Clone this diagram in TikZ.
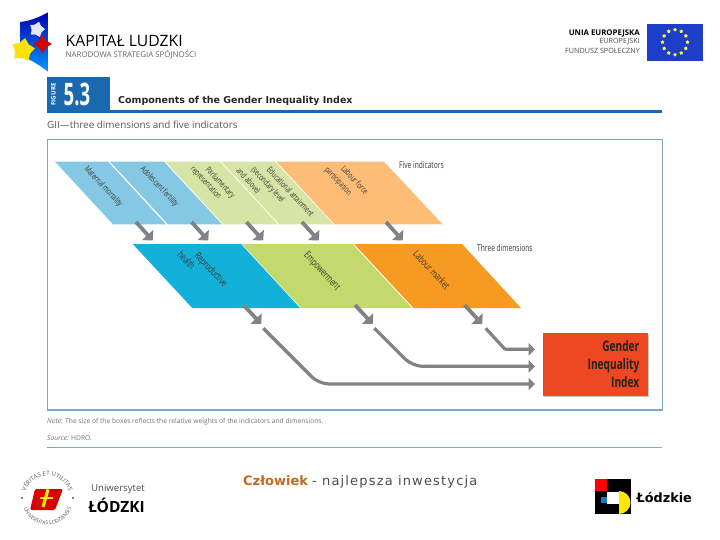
\documentclass[tikz,border=0pt]{standalone}
\usepackage{xcolor}
\usepackage{fontspec}
\setmainfont{Open Sans}
\newfontfamily\condfont[FakeStretch=0.7]{Open Sans}
\newfontfamily\numfont[FakeStretch=0.6]{Open Sans}
\newfontfamily\headfont{DejaVu Sans}
\newfontfamily\sloganfont[LetterSpace=9]{DejaVu Sans}
\definecolor{cadre}{HTML}{7FA8C4}
\definecolor{bandeau}{HTML}{1A69AE}
\definecolor{ciel}{HTML}{85C8E4}
\definecolor{tilleul}{HTML}{D6E5A5}
\definecolor{abricot}{HTML}{FDBD77}
\definecolor{cyan2}{HTML}{11B1D9}
\definecolor{herbe}{HTML}{C3D96D}
\definecolor{orange2}{HTML}{F79A21}
\definecolor{brique}{HTML}{EE4823}
\definecolor{fleche}{HTML}{808285}
\definecolor{encre}{HTML}{3A3A30}
\definecolor{cuivre}{HTML}{C06A1C}
\definecolor{azur}{HTML}{1D3FC8}
\usetikzlibrary{arrows.meta,shapes.geometric,shadows,decorations.text}
\tikzset{
  slant/.style={rotate=-47,text=encre,inner sep=0pt,font=\condfont\fontsize{8.5}{9.5}\selectfont},
  dimen/.style={slant,font=\condfont\fontsize{10}{11}\selectfont},
  side/.style={anchor=west,inner sep=0pt,text=encre,font=\condfont\fontsize{9.5}{10}\selectfont},
  short/.style={draw=fleche,line width=3.8pt,-{Triangle[length=7.5pt,width=15pt]}},
  long/.style={draw=fleche,line width=3.2pt,rounded corners=10pt,-{Triangle[length=6.5pt,width=12.5pt]}},
  small/.style={anchor=west,inner sep=0pt,text=black!55,font=\fontsize{6.7}{8}\selectfont},
  euro/.style={anchor=east,inner sep=0pt,text=black!70,font=\fontsize{7.2}{8}\selectfont},
  eustar/.style={star,star points=5,fill=yellow!70!white,inner sep=0pt,minimum size=4pt}
}
\begin{document}
\begin{tikzpicture}[x=1pt,y=-1pt]
\useasboundingbox (0,0) rectangle (720,540);
% logo du haut a gauche
\shade[top color=blue!70!black,bottom color=cyan!60!blue] (20,22) .. controls (30,21) and (40,17) .. (48.5,12) -- (48.5,72) .. controls (40,66) and (30,58) .. (20,57) -- cycle;
\node[star,star points=5,fill=white!90!blue,inner sep=0pt,minimum size=16pt,rotate=-15] (whitestar) at (37,29.5) {};
\node[star,star points=5,fill=yellow!85!orange,inner sep=0pt,minimum size=24pt,rotate=-10] (yellowstar) at (23,50) {};
\node[star,star points=4,star point ratio=2,fill=red!85!black,inner sep=0pt,minimum size=19pt] (redstar) at (42.5,44) {};
\node[anchor=west,inner sep=0pt,font=\fontsize{15.7}{17}\selectfont] (kapital) at (65.5,41) {KAPITAŁ LUDZKI};
\node[anchor=west,inner sep=0pt,text=black!60,font=\fontsize{7.9}{9}\selectfont] (strategia) at (65.5,54.5) {NARODOWA STRATEGIA SPÓJNOŚCI};
% logo du haut a droite
\node[euro,text=black,font=\bfseries\fontsize{7.8}{8}\selectfont] (unia) at (640,33) {UNIA EUROPEJSKA};
\node[euro] (europejski) at (640,42) {EUROPEJSKI};
\node[euro] (fundusz) at (640,51) {FUNDUSZ SPOŁECZNY};
\fill[azur] (647.3,23.7) rectangle (702.7,60.7);
\foreach \a in {0,30,...,330}{
  \node[eustar] (eu\a) at ({675+12.5*cos(\a)},{42.2+12.5*sin(\a)}) {};
}
% bandeau du titre
\fill[bandeau] (47,77.5) rectangle (110,110);
\fill[bandeau] (47,110) rectangle (662,113);
\node[rotate=90,text=white,font=\bfseries\fontsize{6.2}{7}\selectfont] (figure) at (53.5,94.5) {FIGURE};
\node[text=white,inner sep=0pt,font=\numfont\bfseries\fontsize{31}{32}\selectfont] (numero) at (77,94) {5.3};
\node[anchor=west,inner sep=0pt,text=black!85,font=\headfont\bfseries\fontsize{9.5}{11}\selectfont] (titre) at (118,100.5) {Components of the Gender Inequality Index};
\node[anchor=west,inner sep=0pt,text=black!65,font=\fontsize{9.9}{11}\selectfont] (soustitre) at (47,125) {GII—three dimensions and five indicators};
% cadre du schema
\draw[cadre,line width=1.3pt] (47.3,139.7) rectangle (662.3,410);
% cinq indicateurs
\foreach \a/\b/\c/\d/\col in {55/108/113/166/ciel,110/164/168/222/ciel,165.5/220/223.5/278/tilleul,221.5/275/279.5/333.5/tilleul,276.5/384/334.5/442.7/abricot}{
  \fill[\col] (\a,161.7) -- (\b,161.7) -- (\d,224.3) -- (\c,224.3) -- cycle;
}
\node[slant] (maternal) at (103.3,186.7) {Maternal mortality};
\node[slant] (adolescent) at (159.3,186.7) {Adolescent fertility};
\node[slant] (parliament) at (220,183) {Parliamentary};
\node[slant] (represent) at (205.7,183) {representation};
\node[slant] (education) at (290.7,191.7) {Educational attainment};
\node[slant] (secondary) at (267.7,185) {(secondary level};
\node[slant] (above) at (248.3,181) {and above)};
\node[slant] (labourforce) at (355,180) {Labour force};
\node[slant] (participation) at (338,181.7) {participation};
\node[side] (five) at (399,165) {Five indicators};
% trois dimensions
\foreach \a/\b/\c/\d/\col in {132.7/241/192.3/300/cyan2,242/352.5/301/412/herbe,354/462/413.5/521/orange2}{
  \fill[\col] (\a,244) -- (\b,244) -- (\d,308) -- (\c,308) -- cycle;
}
\node[dimen] (reproductive) at (210.7,270) {Reproductive};
\node[dimen] (health) at (186.7,260) {health};
\node[dimen] (empowerment) at (321.7,271.7) {Empowerment};
\node[dimen] (market) at (431.7,270) {Labour market};
\node[side] (three) at (477,248) {Three dimensions};
% fleches courtes
\foreach \n/\x in {1/136,2/191.5,3/246.5,4/302,5/386}{
  \coordinate (up\n) at (\x,222);
  \coordinate (dn\n) at ({\x+16.7},240.5);
  \draw[short] (up\n) -- (dn\n);
}
\foreach \n/\x in {6/243.5,7/355,8/464.5}{
  \coordinate (up\n) at (\x,305);
  \coordinate (dn\n) at ({\x+17.7},324);
  \draw[short] (up\n) -- (dn\n);
}
% indice final
\node[fill=brique,drop shadow={opacity=.45,shadow xshift=1pt,shadow yshift=-1.5pt},minimum width=105.3pt,minimum height=62.4pt,inner sep=0pt] (gii) at (595.3,364.5) {};
\node[anchor=east,align=right,text=encre!60!black,inner sep=0pt,font=\condfont\bfseries\fontsize{14.5}{18.2}\selectfont] (giitext) at (639.5,364) {Gender\\Inequality\\Index};
\coordinate (ina) at (535,349.3);
\coordinate (inb) at (535,366.3);
\coordinate (inc) at (535,384);
\coordinate (fromh) at (263.3,328.3);
\coordinate (frome) at (374.3,328.3);
\coordinate (froml) at (485.7,328.3);
\draw[long] (fromh) -- (319,384) -- (inc);
\draw[long] (frome) -- (412.5,366.3) -- (inb);
\draw[long,rounded corners=1pt] (froml) -- (505,349.3) -- (ina);
% notes
\node[small] (note) at (47,421.7) {\textit{Note:} The size of the boxes reflects the relative weights of the indicators and dimensions.};
\node[small] (source) at (47,438) {\textit{Source:} HDRO.};
\draw[cadre,line width=1.1pt] (47,447.7) -- (662,447.7);
% sceau de l'universite
\path[decorate,decoration={text along path,text align=center,text={|\fontsize{6}{7}\selectfont\color{black!65}|VERITAS ET UTILITAS}}] (25.9,490.1) arc[start angle=158,end angle=22,radius=23pt];
\path[decorate,decoration={text along path,text align=center,text={|\fontsize{5.2}{6}\selectfont\color{black!65}|UNIVERSITAS LODZIENSIS}}] (23.9,509) arc[start angle=202,end angle=338,radius=25.5pt];
\fill (22,498) circle[radius=0.8pt] (73,498) circle[radius=0.8pt];
\fill[red!85!black,rounded corners=1.5pt] (35,489) -- (63,489) -- (55,510) -- (30,510) -- cycle;
\draw[yellow!90!orange,line width=3.2pt] (48,489.5) -- (43,507);
\draw[yellow!90!orange,line width=2.2pt] (40,498) -- (53,498);
\node[anchor=east,inner sep=0pt,text=black!70,font=\fontsize{9.6}{10}\selectfont] (uniwersytet) at (145,489) {Uniwersytet};
\node[anchor=east,inner sep=0pt,font=\bfseries\fontsize{15.5}{17}\selectfont] (lodzki) at (145,505) {ŁÓDZKI};
% slogan
\node[anchor=west,inner sep=0pt,font=\headfont\fontsize{13}{15}\selectfont] (slogan) at (243,481.5) {\textcolor{cuivre}{\bfseries Człowiek} \textcolor{black!70}{\sloganfont - najlepsza inwestycja}};
% logo de la region
\fill (595,479) rectangle (630.7,514.3);
\fill[red] (595,479) rectangle (606.7,491);
\fill[white] (606.7,492.3) rectangle (619,504.3);
\fill[cyan!60!blue] (600.7,496.7) rectangle (607,503);
\fill[yellow!90!orange] (619,514) arc[start angle=-90,end angle=90,radius=11.5pt] -- cycle;
\node[anchor=west,inner sep=0pt,font=\headfont\bfseries\fontsize{12.8}{14}\selectfont] (lodzkie) at (636.5,497) {Łódzkie};
\end{tikzpicture}
\end{document}
